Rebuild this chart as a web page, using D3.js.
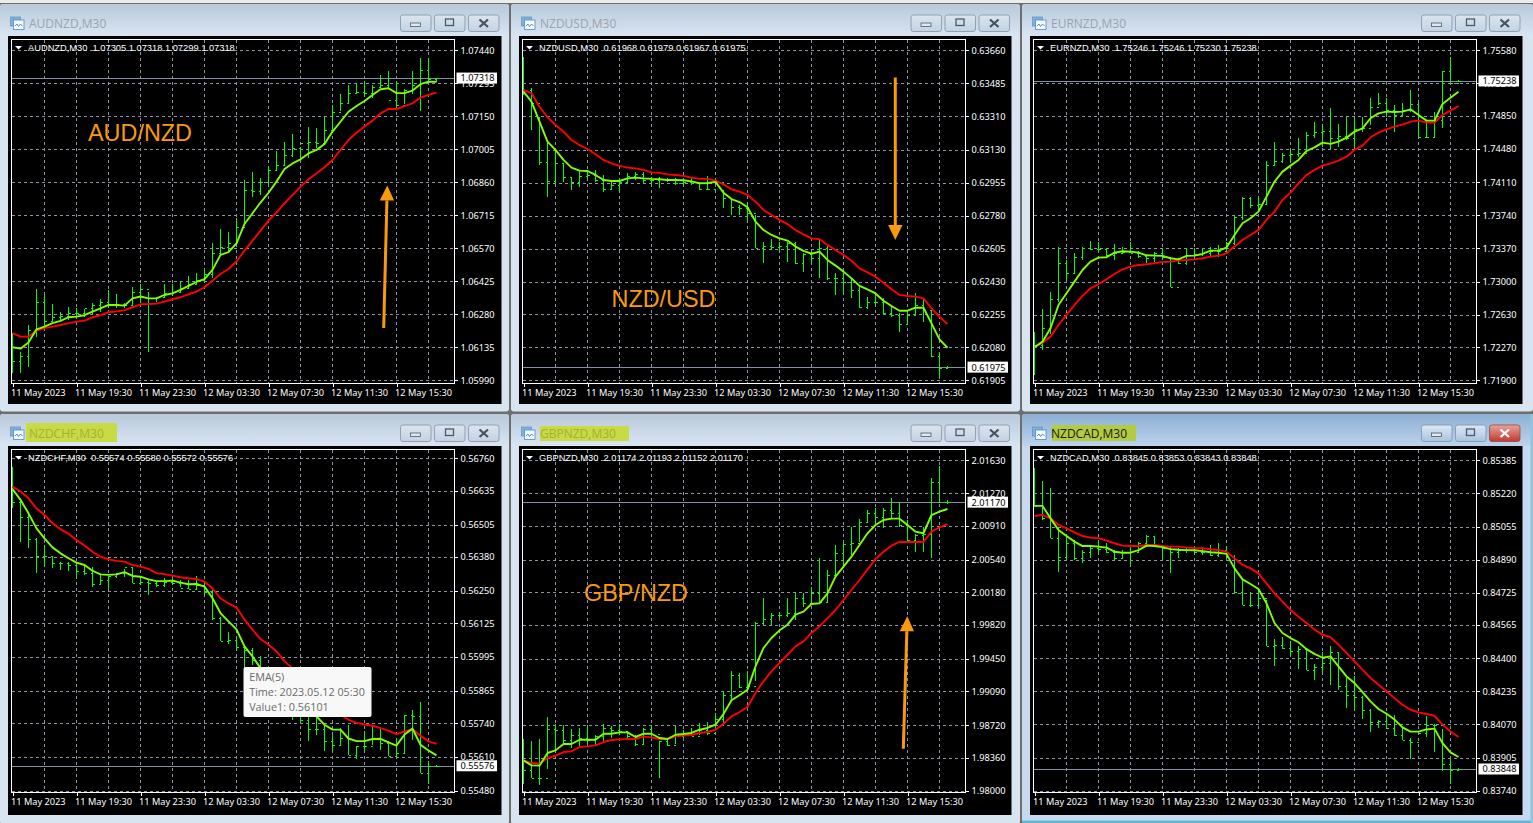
<!DOCTYPE html>
<html><head><meta charset="utf-8"><title>NZD pairs M30</title>
<script src="https://cdn.jsdelivr.net/npm/d3@7/dist/d3.min.js"></script>
<style>
html,body{margin:0;padding:0;background:#6e6e6e;overflow:hidden}
svg{display:block}
.ax text{font-family:"Noto Sans",sans-serif;font-size:9.2px;fill:#fff}
.ax line,.ax path{stroke:#fff;shape-rendering:crispEdges}
</style></head><body><svg id="c" width="1533" height="823"></svg>
<script>
// ---------- time axis ----------
const barCount = 54;
const timeLabels = ["11 May 2023","11 May 19:30","11 May 23:30","12 May 03:30","12 May 07:30","12 May 11:30","12 May 15:30"];
const timeLabelBars = [0,8,16,24,32,40,48];
const gridBars = [4,8,12,16,20,24,28,32,36,40,44,48,52];

// ---------- AUDNZD ----------
const audnzdTicks = [1.07440,1.07295,1.07150,1.07005,1.06860,1.06715,1.06570,1.06425,1.06280,1.06135,1.05990];
const audnzdHigh = [1.06197,1.06116,1.06233,1.06390,1.06365,1.06324,1.06292,1.06314,1.06306,1.06302,1.06328,1.06346,1.06387,1.06368,1.06331,1.06399,1.06413,1.06380,1.06355,1.06413,1.06413,1.06424,1.06449,1.06460,1.06475,1.06592,1.06654,1.06643,1.06702,1.06870,1.06904,1.06881,1.06933,1.06998,1.07036,1.07071,1.07017,1.07102,1.07098,1.07146,1.07199,1.07247,1.07288,1.07295,1.07306,1.07288,1.07332,1.07347,1.07303,1.07269,1.07347,1.07405,1.07408,1.07318];
const audnzdLow = [1.06021,1.06021,1.06047,1.06182,1.06226,1.06248,1.06248,1.06255,1.06267,1.06270,1.06277,1.06292,1.06306,1.06306,1.06306,1.06314,1.06328,1.06116,1.06336,1.06350,1.06361,1.06372,1.06394,1.06409,1.06428,1.06438,1.06541,1.06548,1.06592,1.06673,1.06797,1.06805,1.06849,1.06915,1.06937,1.06973,1.06966,1.06966,1.07010,1.07033,1.07077,1.07172,1.07209,1.07246,1.07238,1.07231,1.07275,1.07275,1.07195,1.07202,1.07246,1.07175,1.07303,1.07299];
const audnzdClose = [1.06076,1.06097,1.06211,1.06336,1.06252,1.06270,1.06273,1.06284,1.06284,1.06306,1.06321,1.06333,1.06321,1.06324,1.06321,1.06380,1.06391,1.06350,1.06355,1.06372,1.06377,1.06394,1.06413,1.06431,1.06456,1.06548,1.06577,1.06592,1.06665,1.06826,1.06823,1.06863,1.06914,1.06936,1.06980,1.07009,1.07034,1.07039,1.07031,1.07090,1.07170,1.07207,1.07251,1.07258,1.07251,1.07277,1.07288,1.07222,1.07200,1.07266,1.07288,1.07354,1.07313,1.07318];
const audnzdEma5 = [1.06135,1.06129,1.06156,1.06214,1.06226,1.06241,1.06251,1.06267,1.06270,1.06276,1.06292,1.06306,1.06321,1.06321,1.06318,1.06350,1.06358,1.06350,1.06350,1.06365,1.06372,1.06387,1.06405,1.06422,1.06435,1.06475,1.06541,1.06553,1.06592,1.06677,1.06724,1.06771,1.06814,1.06863,1.06918,1.06943,1.06961,1.06987,1.07002,1.07028,1.07083,1.07126,1.07170,1.07195,1.07217,1.07244,1.07269,1.07273,1.07252,1.07252,1.07263,1.07291,1.07302,1.07302];
const audnzdEma10 = [1.06197,1.06182,1.06182,1.06208,1.06219,1.06226,1.06233,1.06241,1.06248,1.06252,1.06267,1.06276,1.06289,1.06293,1.06298,1.06311,1.06324,1.06325,1.06327,1.06336,1.06346,1.06355,1.06368,1.06380,1.06399,1.06428,1.06457,1.06479,1.06512,1.06560,1.06604,1.06648,1.06692,1.06727,1.06768,1.06804,1.06841,1.06873,1.06899,1.06926,1.06958,1.07002,1.07046,1.07078,1.07105,1.07131,1.07163,1.07182,1.07182,1.07195,1.07207,1.07232,1.07244,1.07254];

// ---------- NZDUSD ----------
const nzdusdTicks = [0.63660,0.63485,0.63310,0.63130,0.62955,0.62780,0.62605,0.62430,0.62255,0.62080,0.61905];
const nzdusdHigh = [0.63626,0.63458,0.63307,0.63174,0.63130,0.63059,0.62988,0.63024,0.63024,0.63024,0.62997,0.62970,0.62979,0.63006,0.63011,0.63015,0.62988,0.62988,0.62979,0.62979,0.62979,0.62979,0.62956,0.62992,0.62970,0.62917,0.62864,0.62837,0.62855,0.62784,0.62642,0.62655,0.62642,0.62642,0.62642,0.62580,0.62589,0.62651,0.62619,0.62474,0.62474,0.62447,0.62412,0.62346,0.62367,0.62341,0.62305,0.62261,0.62270,0.62367,0.62341,0.62279,0.62057,0.61979];
const nzdusdLow = [0.63422,0.63236,0.63050,0.62878,0.62944,0.62961,0.62917,0.62935,0.62979,0.62961,0.62908,0.62917,0.62908,0.62961,0.62970,0.62956,0.62944,0.62926,0.62961,0.62944,0.62944,0.62944,0.62917,0.62917,0.62949,0.62820,0.62784,0.62784,0.62749,0.62607,0.62531,0.62598,0.62589,0.62536,0.62522,0.62483,0.62527,0.62451,0.62438,0.62359,0.62367,0.62341,0.62291,0.62284,0.62305,0.62257,0.62240,0.62164,0.62199,0.62257,0.62217,0.62031,0.61919,0.61967];
const nzdusdClose = [0.63449,0.63378,0.63064,0.62965,0.63059,0.62988,0.62961,0.62993,0.62997,0.62970,0.62920,0.62944,0.62961,0.62993,0.63002,0.62970,0.62970,0.62975,0.62970,0.62956,0.62961,0.62956,0.62920,0.62920,0.62961,0.62873,0.62828,0.62820,0.62793,0.62607,0.62619,0.62612,0.62621,0.62633,0.62527,0.62577,0.62554,0.62607,0.62449,0.62449,0.62429,0.62385,0.62296,0.62323,0.62323,0.62261,0.62252,0.62204,0.62252,0.62305,0.62279,0.62034,0.61970,0.61975];
const nzdusdEma5 = [0.63440,0.63387,0.63281,0.63174,0.63130,0.63077,0.63036,0.63020,0.63018,0.62997,0.62970,0.62965,0.62965,0.62979,0.62983,0.62979,0.62976,0.62974,0.62970,0.62970,0.62969,0.62963,0.62953,0.62954,0.62960,0.62903,0.62869,0.62853,0.62825,0.62749,0.62704,0.62678,0.62660,0.62648,0.62616,0.62593,0.62578,0.62589,0.62545,0.62515,0.62483,0.62447,0.62407,0.62389,0.62367,0.62328,0.62300,0.62275,0.62275,0.62291,0.62291,0.62208,0.62123,0.62078];
const nzdusdEma10 = [0.63449,0.63431,0.63360,0.63304,0.63263,0.63227,0.63183,0.63156,0.63135,0.63107,0.63077,0.63059,0.63045,0.63036,0.63032,0.63024,0.63011,0.63008,0.63000,0.62997,0.62992,0.62983,0.62976,0.62976,0.62967,0.62947,0.62921,0.62908,0.62891,0.62855,0.62811,0.62784,0.62758,0.62736,0.62704,0.62681,0.62660,0.62655,0.62625,0.62598,0.62571,0.62541,0.62500,0.62479,0.62456,0.62424,0.62389,0.62359,0.62353,0.62350,0.62341,0.62288,0.62243,0.62204];

// ---------- EURNZD ----------
const eurnzdTicks = [1.75580,1.75210,1.74850,1.74480,1.74110,1.73740,1.73370,1.73000,1.72630,1.72270,1.71900];
const eurnzdHigh = [1.72443,1.72696,1.72882,1.73383,1.73242,1.73316,1.73383,1.73454,1.73446,1.73372,1.73420,1.73391,1.73446,1.73346,1.73298,1.73335,1.73372,1.73261,1.73261,1.73372,1.73372,1.73372,1.73391,1.73409,1.73446,1.73733,1.73948,1.73948,1.73948,1.74346,1.74554,1.74431,1.74495,1.74599,1.74673,1.74777,1.74747,1.74933,1.74755,1.74840,1.74840,1.74840,1.75045,1.75101,1.75045,1.74970,1.74989,1.75138,1.74989,1.74803,1.74896,1.75350,1.75502,1.75246];
const eurnzdLow = [1.71960,1.72238,1.72417,1.72777,1.73012,1.73093,1.73242,1.73354,1.73335,1.73272,1.73242,1.73316,1.73316,1.73261,1.73205,1.73223,1.73242,1.72945,1.73197,1.73186,1.73279,1.73287,1.73279,1.73272,1.73316,1.73409,1.73688,1.73818,1.73800,1.73855,1.74294,1.74320,1.74320,1.74394,1.74450,1.74599,1.74506,1.74480,1.74506,1.74580,1.74495,1.74673,1.74747,1.74970,1.74840,1.74673,1.74840,1.74896,1.74599,1.74599,1.74610,1.74718,1.75219,1.75230];
const eurnzdClose = [1.72294,1.72480,1.72807,1.73212,1.73093,1.73279,1.73380,1.73361,1.73361,1.73298,1.73316,1.73335,1.73316,1.73287,1.73268,1.73316,1.73279,1.72945,1.73205,1.73298,1.73309,1.73316,1.73346,1.73346,1.73428,1.73725,1.73930,1.73855,1.73866,1.74301,1.74350,1.74413,1.74424,1.74439,1.74636,1.74673,1.74680,1.74599,1.74625,1.74599,1.74699,1.74710,1.74952,1.74989,1.74915,1.74859,1.74915,1.74982,1.74617,1.74617,1.74803,1.75350,1.75219,1.75238];
const eurnzdEma5 = [1.72268,1.72331,1.72480,1.72740,1.72870,1.73000,1.73130,1.73223,1.73268,1.73272,1.73324,1.73339,1.73335,1.73324,1.73294,1.73290,1.73287,1.73261,1.73249,1.73287,1.73290,1.73309,1.73346,1.73346,1.73380,1.73521,1.73651,1.73707,1.73781,1.73948,1.74116,1.74227,1.74294,1.74357,1.74457,1.74498,1.74550,1.74536,1.74562,1.74606,1.74673,1.74710,1.74822,1.74877,1.74896,1.74892,1.74896,1.74922,1.74859,1.74796,1.74796,1.74982,1.75052,1.75119];
const eurnzdEma10 = [1.72268,1.72320,1.72387,1.72517,1.72629,1.72740,1.72841,1.72926,1.72974,1.73026,1.73086,1.73138,1.73168,1.73186,1.73194,1.73205,1.73220,1.73223,1.73235,1.73242,1.73249,1.73261,1.73279,1.73290,1.73316,1.73391,1.73465,1.73521,1.73577,1.73688,1.73781,1.73911,1.73993,1.74097,1.74190,1.74246,1.74294,1.74320,1.74350,1.74394,1.74469,1.74517,1.74610,1.74662,1.74699,1.74729,1.74751,1.74785,1.74796,1.74773,1.74773,1.74859,1.74907,1.74959];

// ---------- NZDCHF ----------
const nzdchfTicks = [0.56760,0.56635,0.56505,0.56380,0.56250,0.56125,0.55995,0.55865,0.55740,0.55610,0.55480];
const nzdchfHigh = [0.56728,0.56600,0.56548,0.56452,0.56426,0.56385,0.56362,0.56362,0.56362,0.56349,0.56340,0.56311,0.56307,0.56317,0.56332,0.56340,0.56304,0.56291,0.56285,0.56298,0.56298,0.56291,0.56291,0.56307,0.56282,0.56253,0.56150,0.56091,0.56072,0.56036,0.56029,0.55997,0.55952,0.55920,0.55875,0.55843,0.55818,0.55766,0.55766,0.55734,0.55696,0.55721,0.55734,0.55651,0.55708,0.55728,0.55721,0.55670,0.55683,0.55770,0.55789,0.55820,0.55593,0.55580];
const nzdchfLow = [0.56567,0.56439,0.56413,0.56317,0.56343,0.56336,0.56330,0.56327,0.56304,0.56311,0.56266,0.56272,0.56257,0.56298,0.56304,0.56278,0.56272,0.56234,0.56266,0.56266,0.56276,0.56266,0.56255,0.56253,0.56234,0.56137,0.56055,0.56046,0.56017,0.55952,0.55965,0.55907,0.55869,0.55830,0.55792,0.55753,0.55741,0.55672,0.55696,0.55631,0.55631,0.55651,0.55619,0.55603,0.55631,0.55657,0.55638,0.55612,0.55610,0.55622,0.55676,0.55550,0.55505,0.55572];
const nzdchfClose = [0.56593,0.56533,0.56449,0.56385,0.56385,0.56356,0.56356,0.56349,0.56327,0.56317,0.56275,0.56291,0.56307,0.56317,0.56340,0.56281,0.56285,0.56278,0.56272,0.56285,0.56278,0.56259,0.56257,0.56272,0.56246,0.56144,0.56055,0.56060,0.56035,0.56022,0.55983,0.55932,0.55893,0.55855,0.55823,0.55791,0.55752,0.55716,0.55716,0.55672,0.55657,0.55683,0.55619,0.55651,0.55651,0.55683,0.55664,0.55612,0.55625,0.55770,0.55766,0.55550,0.55576,0.55576];
const nzdchfEma5 = [0.56642,0.56600,0.56548,0.56490,0.56452,0.56417,0.56394,0.56375,0.56358,0.56349,0.56327,0.56313,0.56311,0.56313,0.56322,0.56307,0.56304,0.56294,0.56287,0.56287,0.56289,0.56281,0.56275,0.56276,0.56266,0.56221,0.56164,0.56132,0.56101,0.56036,0.55997,0.55952,0.55920,0.55895,0.55862,0.55837,0.55824,0.55798,0.55766,0.55734,0.55715,0.55715,0.55681,0.55671,0.55671,0.55679,0.55680,0.55666,0.55654,0.55696,0.55719,0.55657,0.55635,0.55616];
const nzdchfEma10 = [0.56651,0.56632,0.56606,0.56567,0.56542,0.56510,0.56487,0.56469,0.56445,0.56424,0.56400,0.56381,0.56371,0.56365,0.56362,0.56349,0.56343,0.56334,0.56318,0.56314,0.56308,0.56302,0.56298,0.56295,0.56285,0.56259,0.56221,0.56201,0.56185,0.56139,0.56100,0.56064,0.56042,0.56017,0.55978,0.55952,0.55920,0.55895,0.55862,0.55830,0.55798,0.55773,0.55753,0.55741,0.55735,0.55730,0.55721,0.55711,0.55698,0.55708,0.55717,0.55692,0.55670,0.55660];

// ---------- GBPNZD ----------
const gbpnzdTicks = [2.01630,2.01270,2.00910,2.00540,2.00180,1.99820,1.99450,1.99090,1.98720,1.98360,1.98000];
const gbpnzdHigh = [1.98568,1.98542,1.98568,1.98809,1.98736,1.98725,1.98678,1.98689,1.98718,1.98615,1.98736,1.98707,1.98736,1.98641,1.98615,1.98689,1.98725,1.98542,1.98579,1.98707,1.98670,1.98689,1.98744,1.98751,1.98853,1.99092,1.99311,1.99293,1.99311,1.99850,2.00114,1.99949,1.99949,2.00114,2.00176,2.00176,2.00242,2.00553,2.00425,2.00700,2.00736,2.00901,2.00982,2.01084,2.01103,2.01103,2.01212,2.01165,2.00974,2.00820,2.00901,2.01440,2.01568,2.01193];
const gbpnzdLow = [1.98077,1.98139,1.98066,1.98238,1.98450,1.98505,1.98469,1.98487,1.98516,1.98505,1.98542,1.98579,1.98615,1.98579,1.98494,1.98516,1.98579,1.98139,1.98487,1.98516,1.98579,1.98597,1.98615,1.98615,1.98670,1.98744,1.98982,1.99128,1.99092,1.99201,1.99824,1.99824,1.99899,1.99912,1.99875,2.00022,2.00040,2.00077,2.00077,2.00333,2.00443,2.00590,2.00736,2.00938,2.00919,2.00883,2.00993,2.00901,2.00736,2.00626,2.00626,2.00553,2.01176,2.01152];
const gbpnzdClose = [1.98231,1.98139,1.98139,1.98678,1.98670,1.98560,1.98615,1.98579,1.98560,1.98597,1.98689,1.98670,1.98652,1.98597,1.98516,1.98678,1.98626,1.98542,1.98505,1.98597,1.98634,1.98605,1.98663,1.98634,1.98787,1.99055,1.99275,1.99139,1.99146,1.99842,1.99883,1.99930,1.99930,1.99949,2.00114,2.00059,2.00176,2.00077,2.00370,2.00615,2.00711,2.00718,2.00956,2.01048,2.01004,2.01084,2.01048,2.00919,2.00755,2.00809,2.00820,2.01396,2.01176,2.01170];
const gbpnzdEma5 = [1.98333,1.98278,1.98275,1.98414,1.98443,1.98513,1.98513,1.98560,1.98560,1.98560,1.98626,1.98626,1.98641,1.98641,1.98590,1.98626,1.98626,1.98579,1.98568,1.98615,1.98623,1.98634,1.98670,1.98689,1.98725,1.98842,1.98993,1.99048,1.99110,1.99366,1.99568,1.99678,1.99762,1.99824,1.99934,1.99967,2.00051,2.00059,2.00168,2.00352,2.00462,2.00571,2.00700,2.00828,2.00919,2.00974,2.00989,2.00989,2.00919,2.00846,2.00828,2.01029,2.01066,2.01095];
const gbpnzdEma10 = [1.98333,1.98304,1.98297,1.98359,1.98385,1.98425,1.98432,1.98480,1.98487,1.98498,1.98535,1.98557,1.98564,1.98568,1.98568,1.98594,1.98586,1.98568,1.98568,1.98597,1.98605,1.98612,1.98634,1.98645,1.98670,1.98736,1.98817,1.98864,1.98919,1.99073,1.99201,1.99311,1.99403,1.99494,1.99586,1.99641,1.99733,1.99806,1.99897,1.99985,2.00095,2.00205,2.00315,2.00432,2.00546,2.00626,2.00692,2.00733,2.00733,2.00733,2.00733,2.00846,2.00894,2.00930];

// ---------- NZDCAD ----------
const nzdcadTicks = [0.85385,0.85220,0.85055,0.84890,0.84725,0.84565,0.84400,0.84235,0.84070,0.83905,0.83740];
const nzdcadHigh = [0.85345,0.85284,0.85246,0.85055,0.85013,0.84988,0.84938,0.84955,0.84988,0.84972,0.84938,0.84938,0.84963,0.84980,0.85013,0.85010,0.84955,0.84955,0.84947,0.84955,0.84955,0.84955,0.84963,0.84972,0.84958,0.84914,0.84789,0.84731,0.84748,0.84689,0.84495,0.84505,0.84484,0.84459,0.84450,0.84372,0.84429,0.84462,0.84429,0.84301,0.84309,0.84210,0.84147,0.84090,0.84118,0.84118,0.84052,0.84002,0.84035,0.84113,0.84072,0.84047,0.83899,0.83853];
const nzdcadLow = [0.85154,0.85088,0.84997,0.84831,0.84889,0.84889,0.84872,0.84897,0.84922,0.84925,0.84889,0.84897,0.84869,0.84930,0.84955,0.84955,0.84889,0.84822,0.84900,0.84925,0.84922,0.84914,0.84909,0.84905,0.84897,0.84726,0.84665,0.84656,0.84648,0.84459,0.84359,0.84445,0.84409,0.84346,0.84339,0.84293,0.84326,0.84268,0.84240,0.84152,0.84147,0.84097,0.84032,0.84052,0.84049,0.84014,0.83991,0.83899,0.84029,0.84007,0.83933,0.83836,0.83773,0.83843];
const nzdcadClose = [0.85163,0.85096,0.84997,0.84905,0.84972,0.84897,0.84930,0.84947,0.84942,0.84930,0.84897,0.84930,0.84930,0.84975,0.85010,0.84963,0.84947,0.84930,0.84938,0.84938,0.84930,0.84930,0.84914,0.84938,0.84905,0.84731,0.84665,0.84665,0.84698,0.84462,0.84464,0.84450,0.84434,0.84445,0.84339,0.84356,0.84376,0.84429,0.84260,0.84218,0.84206,0.84143,0.84082,0.84085,0.84052,0.84016,0.83994,0.83981,0.84027,0.84069,0.84069,0.83874,0.83845,0.83848];
const nzdcadEma5 = [0.85158,0.85158,0.85096,0.85038,0.85008,0.84980,0.84958,0.84958,0.84955,0.84950,0.84930,0.84925,0.84925,0.84938,0.84960,0.84958,0.84953,0.84943,0.84940,0.84938,0.84937,0.84933,0.84927,0.84925,0.84919,0.84847,0.84792,0.84769,0.84744,0.84673,0.84575,0.84525,0.84500,0.84479,0.84445,0.84421,0.84402,0.84409,0.84359,0.84309,0.84276,0.84231,0.84185,0.84147,0.84123,0.84094,0.84055,0.84034,0.84034,0.84045,0.84049,0.83977,0.83931,0.83908];
const nzdcadEma10 = [0.85108,0.85113,0.85096,0.85063,0.85046,0.85026,0.85008,0.85000,0.84997,0.84985,0.84972,0.84960,0.84958,0.84958,0.84963,0.84963,0.84958,0.84955,0.84955,0.84950,0.84948,0.84947,0.84942,0.84938,0.84930,0.84897,0.84864,0.84847,0.84822,0.84772,0.84723,0.84681,0.84640,0.84606,0.84575,0.84542,0.84517,0.84504,0.84467,0.84426,0.84384,0.84343,0.84301,0.84268,0.84235,0.84201,0.84168,0.84143,0.84130,0.84122,0.84113,0.84069,0.84035,0.84007];

// ---------- header and last price texts ----------
const symbols = ["AUDNZD,M30","NZDUSD,M30","EURNZD,M30","NZDCHF,M30","GBPNZD,M30","NZDCAD,M30"];
const ohlcTexts = ["1.07305 1.07318 1.07299 1.07318","0.61968 0.61979 0.61967 0.61975","1.75246 1.75246 1.75230 1.75238","0.55574 0.55580 0.55572 0.55576","2.01174 2.01193 2.01152 2.01170","0.83845 0.83853 0.83843 0.83848"];
const lastPrices = [1.07318,0.61975,1.75238,0.55576,2.01170,0.83848];
const tickSets = [audnzdTicks,nzdusdTicks,eurnzdTicks,nzdchfTicks,gbpnzdTicks,nzdcadTicks];
const highSets = [audnzdHigh,nzdusdHigh,eurnzdHigh,nzdchfHigh,gbpnzdHigh,nzdcadHigh];
const lowSets = [audnzdLow,nzdusdLow,eurnzdLow,nzdchfLow,gbpnzdLow,nzdcadLow];
const closeSets = [audnzdClose,nzdusdClose,eurnzdClose,nzdchfClose,gbpnzdClose,nzdcadClose];
const ema5Sets = [audnzdEma5,nzdusdEma5,eurnzdEma5,nzdchfEma5,gbpnzdEma5,nzdcadEma5];
const ema10Sets = [audnzdEma10,nzdusdEma10,eurnzdEma10,nzdchfEma10,gbpnzdEma10,nzdcadEma10];

// ---------- layout only ----------
const cols = [{w0:0,w1:509,bl:8,br:501.5,pl:11.5,pr:454.5,x0:12.5},{w0:511,w1:1020,bl:519,br:1011.5,pl:522.5,pr:965.5,x0:523.5},{w0:1022,w1:1533,bl:1030,br:1522.5,pl:1033.5,pr:1476.5,x0:1034.5}];
const rows = [{w0:4,w1:411.5,bt:36,bb:404,pt:39.5,pb:383.5,yt:50.3,yb:380.3,tt:28},{w0:414,w1:824,bt:446,bb:815,pt:449.5,pb:792.5,yt:460.3,yb:790.7,tt:438}];
const svg = d3.select("#c");
const defs = svg.append("defs");
function grad(id,a,b){const g=defs.append("linearGradient").attr("id",id).attr("x1",0).attr("x2",0).attr("y1",0).attr("y2",1);g.append("stop").attr("offset",0).attr("stop-color",a);g.append("stop").attr("offset",1).attr("stop-color",b);}
grad("ti","#b9c9d9","#d8e5f3");grad("ta","#8dafd3","#bcd3ec");grad("bi","#dbe5f0","#c3d2e2");grad("ba","#dce8f5","#a9c3df");grad("br","#e8a59c","#c2382c");
const FONT_T='"Open Sans",sans-serif', FONT_A='"Liberation Sans",Arial,sans-serif';
svg.append("rect").attr("width",1533).attr("height",3).attr("fill","#ececec");

symbols.forEach((sym,k)=>{
  const c=cols[k%3], r=rows[Math.floor(k/3)], active=k===5;
  const win=svg.append("g");
  win.append("rect").attr("x",c.w0).attr("y",r.w0).attr("width",c.w1-c.w0).attr("height",r.w1-r.w0).attr("fill",active?"#c6d9ef":"#d9e4f1").attr("rx",3);
  win.append("rect").attr("x",c.w0).attr("y",r.w0).attr("width",c.w1-c.w0).attr("height",r.bt-r.w0).attr("fill",`url(#${active?"ta":"ti"})`).attr("rx",3);
  // highlight behind title
  const hl=[null,null,null,[26,423,91,19,"#c8da44"],[540,426,89,15,"#c8da44"],[1052,425,84,16,"#b3cb3f"]][k];
  if(hl) win.append("rect").attr("x",hl[0]).attr("y",hl[1]).attr("width",hl[2]).attr("height",hl[3]).attr("fill",hl[4]);
  // icon
  const ix=c.w0+10.5, iy=r.w0+13;
  const ic=win.append("g").attr("transform",`translate(${ix},${iy})`);
  ic.append("rect").attr("x",0).attr("y",0).attr("width",10).attr("height",9).attr("fill","#7db2de").attr("stroke","#5b93c7").attr("stroke-width",.7);
  ic.append("rect").attr("x",3).attr("y",3).attr("width",10.5).attr("height",9.5).attr("fill","#f4f9ff").attr("stroke","#4e8bc4").attr("stroke-width",.8);
  ic.append("path").attr("d","M4.5 9 L6.5 7 L8 9.5 L10 7 L12 9").attr("fill","none").attr("stroke","#3579bd").attr("stroke-width",.8);
  win.append("text").attr("x",c.w0+29).attr("y",r.tt).text(sym)
    .attr("font-family",FONT_T).attr("font-size",12).attr("fill",active?"#1a1a1a":(k>=3?"#a7ae3a":"#9ba3ab"));
  // buttons
  [0,1,2].forEach(b=>{
    const bx=c.w0+(k%3===2?-1.5:-0.5)+[401,435,469][b]-(k%3===1?0.5:0), by=r.w0+11;
    const red=active&&b===2;
    win.append("rect").attr("x",bx).attr("y",by).attr("width",30.5).attr("height",16.5).attr("rx",2.5)
      .attr("fill",`url(#${red?"br":(active?"ba":"bi")})`).attr("stroke",red?"#8f4a43":"#7f93a8").attr("stroke-width",.8);
    if(b===0) win.append("rect").attr("x",bx+10).attr("y",by+8).attr("width",10).attr("height",3.5).attr("fill","#dfe7ef").attr("stroke","#4d5a66").attr("stroke-width",.8);
    if(b===1) win.append("rect").attr("x",bx+11).attr("y",by+4).attr("width",8).attr("height",6.5).attr("fill","none").attr("stroke","#4d5a66").attr("stroke-width",1.3);
    if(b===2) win.append("path").attr("d",`M${bx+11} ${by+4.5} L${bx+19.5} ${by+12} M${bx+19.5} ${by+4.5} L${bx+11} ${by+12}`).attr("stroke",red?"#fff":"#46525e").attr("stroke-width",2.2);
  });
  // black chart area
  const g=svg.append("g");
  g.append("rect").attr("x",c.bl).attr("y",r.bt).attr("width",c.br-c.bl).attr("height",r.bb-r.bt).attr("fill","#000");

  const x=d3.scaleLinear().domain([0,barCount-1]).range([c.x0,c.x0+8*(barCount-1)]);
  const ticks=tickSets[k];
  const y=d3.scaleLinear().domain([ticks[0],ticks[ticks.length-1]]).range([k===3?458.3:r.yt,r.yb]);

  // grid
  const dash="3.2 2.8", gridCol="#8d94a6";
  g.append("g").selectAll("line").data(ticks).join("line")
    .attr("x1",c.pl).attr("x2",c.pr).attr("y1",d=>Math.round(y(d))+.5).attr("y2",d=>Math.round(y(d))+.5)
    .attr("stroke",gridCol).attr("stroke-dasharray",dash).attr("shape-rendering","crispEdges");
  g.append("g").selectAll("line").data(gridBars).join("line")
    .attr("x1",d=>x(d)).attr("x2",d=>x(d)).attr("y1",r.pt).attr("y2",r.pb)
    .attr("stroke",gridCol).attr("stroke-dasharray",dash).attr("shape-rendering","crispEdges");

  // header
  g.append("path").attr("d",`M${c.pl+3.5} ${r.pt+6.5}h7l-3.5 3.5z`).attr("fill","#fff");
  g.append("text").attr("x",c.pl+16.5).attr("y",r.pt+11.5).attr("xml:space","preserve").text(sym+"  "+ohlcTexts[k])
    .attr("font-family",FONT_A).attr("font-size",9.3).attr("fill","#fff");

  // clip
  const cid="clip"+k;
  defs.append("clipPath").attr("id",cid).append("rect").attr("x",c.pl).attr("y",r.pt).attr("width",c.pr-c.pl).attr("height",r.pb-r.pt);
  const plot=g.append("g").attr("clip-path",`url(#${cid})`);

  // last price line
  plot.append("line").attr("x1",c.pl).attr("x2",c.pr).attr("y1",Math.round(y(lastPrices[k]))+.5).attr("y2",Math.round(y(lastPrices[k]))+.5)
    .attr("stroke","#8290a2").attr("shape-rendering","crispEdges");

  // OHLC bars
  const idx=d3.range(barCount), green="#00ff00", tickLen=2;
  const H=highSets[k],L=lowSets[k],C=closeSets[k];
  const bars=plot.append("g").attr("stroke",green).attr("shape-rendering","crispEdges");
  bars.selectAll("line.b").data(idx).join("line").attr("class","b").attr("x1",i=>x(i)).attr("x2",i=>x(i)).attr("y1",i=>y(H[i])).attr("y2",i=>y(L[i]));
  bars.selectAll("line.c").data(idx).join("line").attr("class","c").attr("x1",i=>x(i)).attr("x2",i=>x(i)+tickLen).attr("y1",i=>Math.round(y(C[i]))+.5).attr("y2",i=>Math.round(y(C[i]))+.5);
  bars.selectAll("line.o").data(idx.slice(1)).join("line").attr("class","o").attr("x1",i=>x(i)-tickLen).attr("x2",i=>x(i)).attr("y1",i=>Math.round(y(C[i-1]))+.5).attr("y2",i=>Math.round(y(C[i-1]))+.5);

  // EMA lines
  const line=d3.line().x((d,i)=>x(i)).y(d=>y(d));
  plot.append("path").datum(ema10Sets[k]).attr("d",line).attr("fill","none").attr("stroke","#ff0000").attr("stroke-width",1.9).attr("stroke-linejoin","round");
  plot.append("path").datum(ema5Sets[k]).attr("d",line).attr("fill","none").attr("stroke","#7fff00").attr("stroke-width",1.9).attr("stroke-linejoin","round");

  // plot frame
  g.append("rect").attr("x",c.pl).attr("y",r.pt).attr("width",c.pr-c.pl).attr("height",r.pb-r.pt).attr("fill","none").attr("stroke","#fff").attr("shape-rendering","crispEdges");

  // axes
  const yAxis=d3.axisRight(y).tickValues(ticks).tickFormat(d3.format(".5f")).tickSize(3).tickPadding(3);
  g.append("g").attr("class","ax").attr("transform",`translate(${c.pr},0)`).call(yAxis).call(s=>s.select(".domain").remove());
  const xAxis=d3.axisBottom(x).tickValues(timeLabelBars).tickFormat((d,i)=>timeLabels[i]).tickSize(3).tickPadding(2.5);
  g.append("g").attr("class","ax").attr("transform",`translate(0,${r.pb})`).call(xAxis)
    .call(s=>s.select(".domain").remove()).call(s=>s.selectAll("text").attr("text-anchor","start").attr("dx",-2).attr("dy",".8em"));

  // last price label
  const ly=y(lastPrices[k]);
  g.append("rect").attr("x",c.pr+2).attr("y",ly-5.5).attr("width",40.5).attr("height",11).attr("fill","#fff");
  g.append("text").attr("x",c.pr+6).attr("y",ly+3.4).text(d3.format(".5f")(lastPrices[k])).attr("font-family",'"Noto Sans",sans-serif').attr("font-size",9.2).attr("fill","#000");
});

// ---------- annotations ----------
const orange="#f99a0c";
const noteTexts=["AUD/NZD","NZD/USD","GBP/NZD"], noteX=[88,611.5,584], noteY=[141,307,600.5];
svg.append("g").selectAll("text").data(noteTexts).join("text").attr("x",(d,i)=>noteX[i]).attr("y",(d,i)=>noteY[i]).text(d=>d)
  .attr("font-family",FONT_A).attr("font-size",23.4).attr("fill",orange);
const arrows=[[383.7,328,387.3,185.5],[895.3,77.5,895.3,240],[903.3,748.7,907.3,616.3]];
const ag=svg.append("g");
arrows.forEach(a=>{
  const dir=a[3]<a[1]?-1:1, hb=a[3]-dir*15;
  const bx=a[0]+(a[2]-a[0])*(hb-a[1])/(a[3]-a[1]);
  ag.append("line").attr("x1",a[0]).attr("y1",a[1]).attr("x2",bx).attr("y2",hb).attr("stroke",orange).attr("stroke-width",3);
  ag.append("path").attr("d",`M${a[2]} ${a[3]}L${bx+7.2} ${hb}L${bx-7.2} ${hb}Z`).attr("fill",orange);
});

// ---------- tooltip ----------
const tipLines=["EMA(5)","Time: 2023.05.12 05:30","Value1: 0.56101"];
const tip=svg.append("g");
tip.append("rect").attr("x",243.5).attr("y",667).attr("width",128).attr("height",50).attr("rx",2).attr("fill","#f8f8f8");
tip.selectAll("text").data(tipLines).join("text").attr("x",249.2).attr("y",(d,i)=>680.5+15.2*i).text(d=>d)
  .attr("font-family",FONT_T).attr("font-size",10.8).attr("fill","#6b6b6b");

// ---------- active window bottom frame ----------
svg.append("rect").attr("x",1022).attr("y",820.5).attr("width",511).attr("height",2.5).attr("fill","#63b6d8");
svg.append("rect").attr("x",1530.5).attr("y",414).attr("width",2.5).attr("height",409).attr("fill","#8fc3de");
</script></body></html>
